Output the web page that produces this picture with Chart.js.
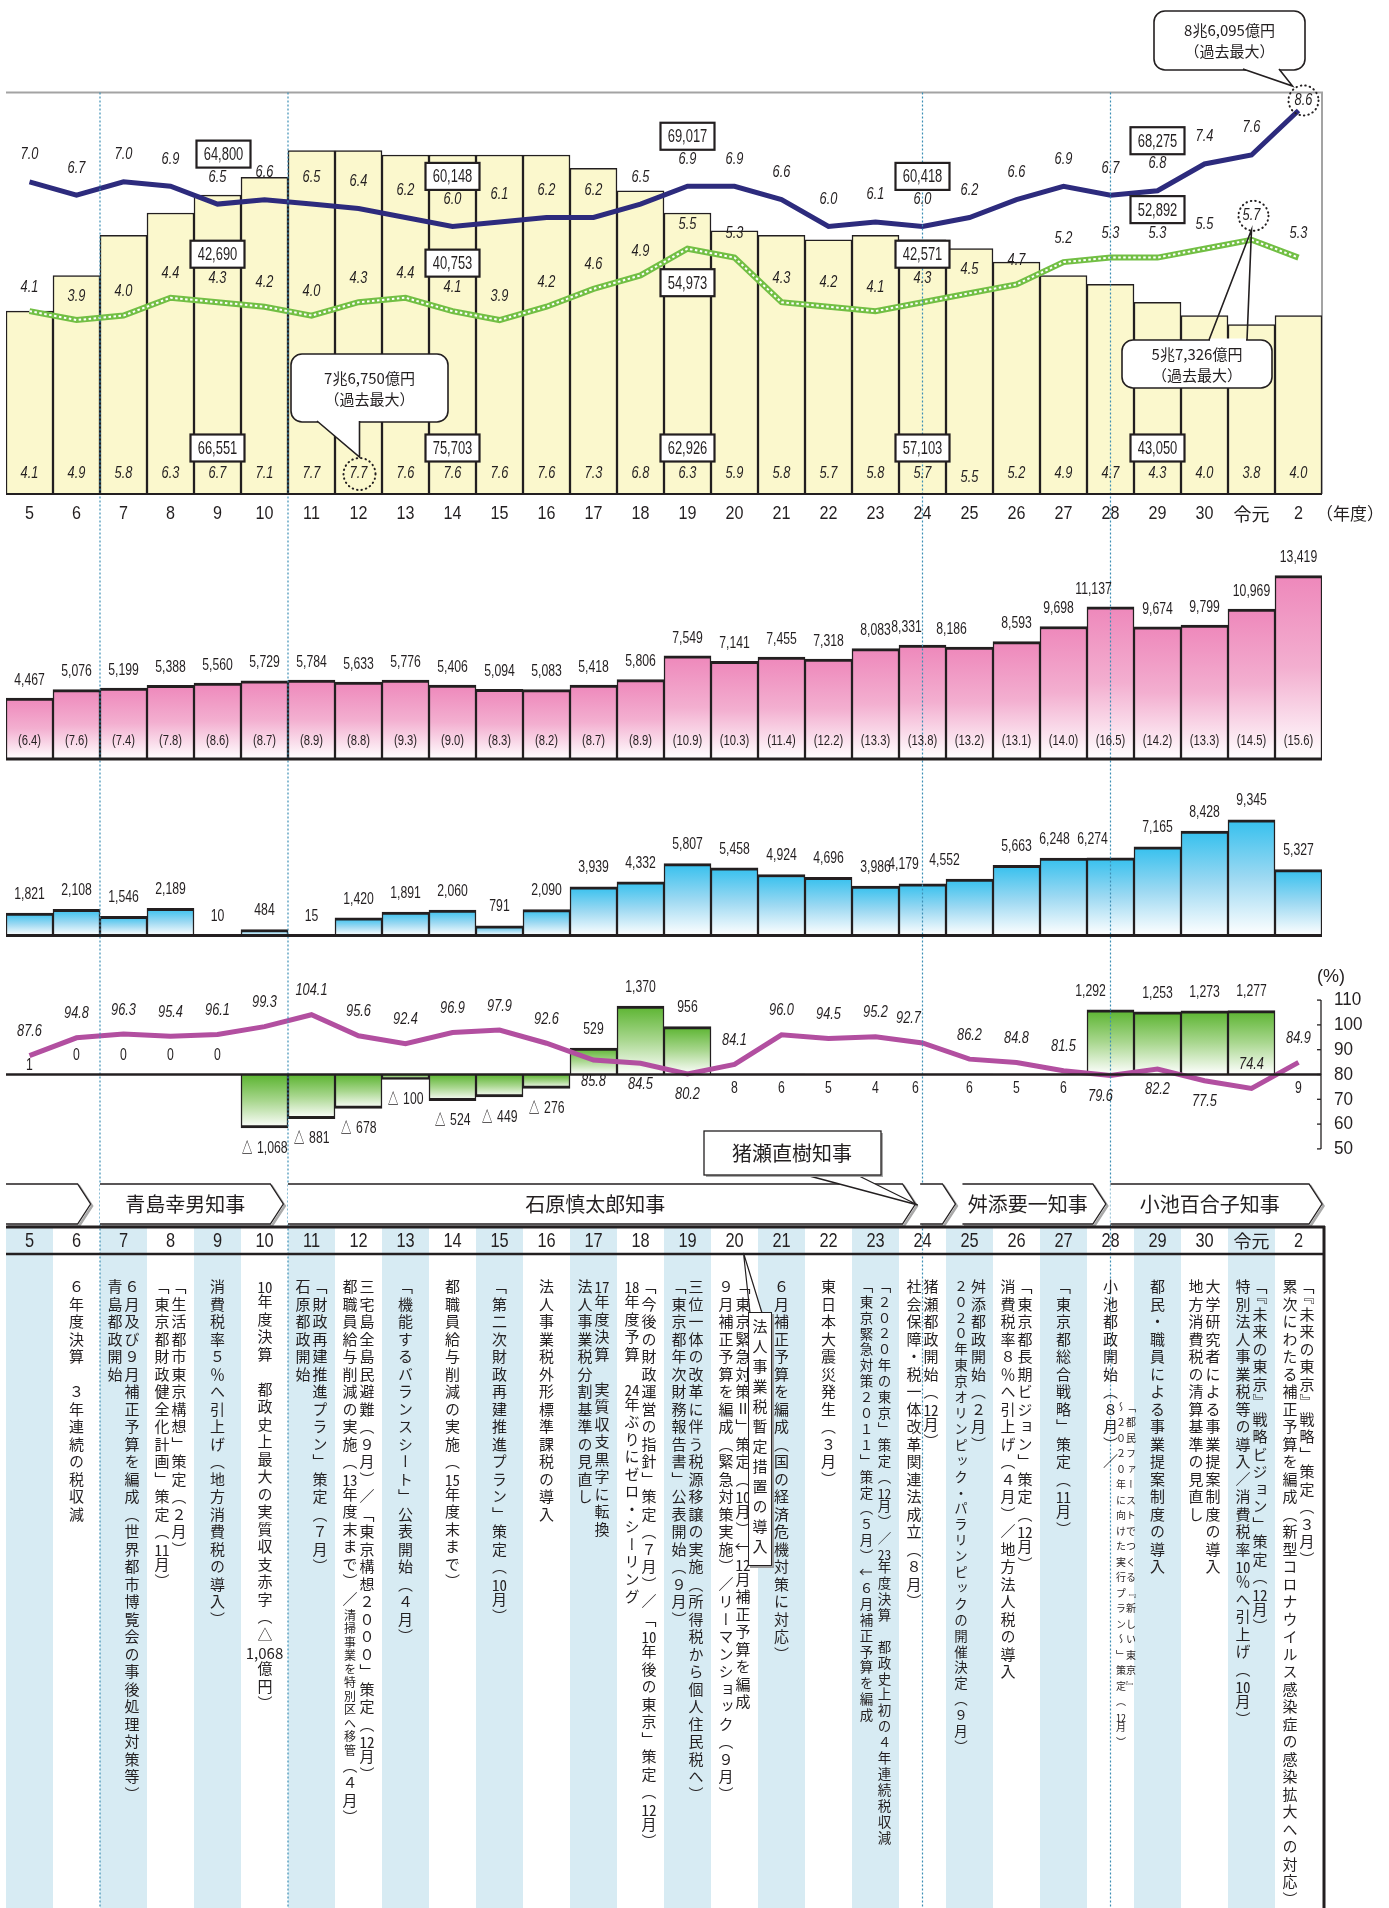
<!DOCTYPE html>
<html lang="ja">
<head>
<meta charset="utf-8">
<title>都財政の推移</title>
<script src="https://cdn.jsdelivr.net/npm/chart.js@4.4.1/dist/chart.umd.min.js"></script>
<style>
  html, body { margin: 0; padding: 0; background: #fff; }
  #wrap { position: relative; width: 1389px; height: 1908px; overflow: hidden; }
  #chart { position: absolute; left: 0; top: 0; }
  .col { position: absolute; top: 1279px; width: 47px; display: flex; justify-content: center; }
  .vt { writing-mode: vertical-rl; font-family: 'Noto Sans CJK JP', sans-serif; font-size: 15px;
        line-height: 17px; letter-spacing: 2.5px; color: #231f20; white-space: nowrap; }
  .vt .cp { font-size: 13.5px; letter-spacing: 2.4px; }
  .vt .sm { font-size: 12px; letter-spacing: 1.5px; }
  .tcy { text-combine-upright: all; }
  .hz { writing-mode: horizontal-tb; display: inline-block; letter-spacing: 0; }
  .plan { position: absolute; writing-mode: vertical-rl; font-family: 'Noto Sans CJK JP', sans-serif;
          font-size: 10px; line-height: 10px; letter-spacing: 5.5px; color: #231f20; white-space: nowrap; }
  .tag { position: absolute; box-sizing: border-box; writing-mode: vertical-rl; display: flex;
         align-items: center; justify-content: center; background: #fff; border: 1.5px solid #231f20;
         box-shadow: 2px 2px 0 #9c9c9c; font-family: 'Noto Sans CJK JP', sans-serif; font-size: 15px;
         letter-spacing: 5px; color: #231f20; }
</style>
</head>
<body>
<div id="wrap">
  <canvas id="chart" width="1389" height="1908"></canvas>
  <div id="notes"></div>
</div>
<script>
// 年度
const years = ['5','6','7','8','9','10','11','12','13','14','15','16','17','18','19','20',
  '21','22','23','24','25','26','27','28','29','30','令元','2'];

// 上段（兆円）
const debtTotal   = [4.1,4.9,5.8,6.3,6.7,7.1,7.7,7.7,7.6,7.6,7.6,7.6,7.3,6.8,6.3,5.9,5.8,5.7,5.8,5.7,5.5,5.2,4.9,4.7,4.3,4.0,3.8,4.0];
const budgetTotal = [7.0,6.7,7.0,6.9,6.5,6.6,6.5,6.4,6.2,6.0,6.1,6.2,6.2,6.5,6.9,6.9,6.6,6.0,6.1,6.0,6.2,6.6,6.9,6.7,6.8,7.4,7.6,8.6];
const taxTotal    = [4.1,3.9,4.0,4.4,4.3,4.2,4.0,4.3,4.4,4.1,3.9,4.2,4.6,4.9,5.5,5.3,4.3,4.2,4.1,4.3,4.5,4.7,5.2,5.3,5.3,5.5,5.7,5.3];

// 知事就任年度の金額（億円）
const termYears  = ['9','14','19','24','29'];
const termBudget = [64800, 60148, 69017, 60418, 68275];
const termTax    = [42690, 40753, 54973, 42571, 52892];
const termDebt   = [66551, 75703, 62926, 57103, 43050];

const recordNotes = [
  { year: '12', lines: ['7兆6,750億円', '（過去最大）'] },
  { year: '2', lines: ['8兆6,095億円', '（過去最大）'] },
  { year: '令元', lines: ['5兆7,326億円', '（過去最大）'] }
];

// 第2段（億円）と構成比（%）
const socialCost  = [4467,5076,5199,5388,5560,5729,5784,5633,5776,5406,5094,5083,5418,5806,7549,7141,7455,7318,8083,8331,8186,8593,9698,11137,9674,9799,10969,13419];
const socialShare = [6.4,7.6,7.4,7.8,8.6,8.7,8.9,8.8,9.3,9.0,8.3,8.2,8.7,8.9,10.9,10.3,11.4,12.2,13.3,13.8,13.2,13.1,14.0,16.5,14.2,13.3,14.5,15.6];

// 第3段（億円）
const fundBalance = [1821,2108,1546,2189,10,484,15,1420,1891,2060,791,2090,3939,4332,5807,5458,4924,4696,3986,4179,4552,5663,6248,6274,7165,8428,9345,5327];

// 第4段：実質収支（億円）と経常収支比率（%）
const realBalance = [1,0,0,0,0,-1068,-881,-678,-100,-524,-449,-276,529,1370,956,8,6,5,4,6,6,5,6,1292,1253,1273,1277,9];
const burdenRatio = [87.6,94.8,96.3,95.4,96.1,99.3,104.1,95.6,92.4,96.9,97.9,92.6,85.8,84.5,80.2,84.1,96.0,94.5,95.2,92.7,86.2,84.8,81.5,79.6,82.2,77.5,74.4,84.9];
const ratioTicks  = [110,100,90,80,70,60,50];

// 知事の在任期間（年度の位置）
const governors = [
  { name: '', from: -0.5, to: 1.3 },
  { name: '青島幸男知事', from: 1.5, to: 5.4 },
  { name: '石原慎太郎知事', from: 5.5, to: 18.85 },
  { name: '', from: 18.95, to: 19.7 },
  { name: '舛添要一知事', from: 19.85, to: 22.9 },
  { name: '小池百合子知事', from: 23, to: 27.5 }
];
const termLines = [1.5, 5.5, 19, 23];
const inoseLabel = '猪瀬直樹知事';

// 各年度の出来事（右の行から）
const events = [
  [],
  ['６年度決算　３年連続の税収減'],
  ['６月及び９月補正予算を編成（世界都市博覧会の事後処理対策等）', '青島都政開始'],
  ['「生活都市東京構想」策定（２月）', '「東京都財政健全化計画」策定（11月）'],
  ['消費税率５％へ引上げ（地方消費税の導入）'],
  ['10年度決算　都政史上最大の実質収支赤字（△1,068億円）'],
  ['「財政再建推進プラン」策定（７月）', '石原都政開始'],
  ['三宅島全島民避難（９月）／「東京構想２０００」策定（12月）', '都職員給与削減の実施（13年度末まで）／<<清掃事業を特別区へ移管>>（４月）'],
  ['「機能するバランスシート」公表開始（４月）'],
  ['都職員給与削減の実施（15年度末まで）'],
  ['「第二次財政再建推進プラン」策定（10月）'],
  ['法人事業税外形標準課税の導入'],
  ['17年度決算　実質収支黒字に転換', '法人事業税分割基準の見直し'],
  ['「今後の財政運営の指針」策定（７月）／「10年後の東京」策定（12月）', '18年度予算　24年ぶりにゼロ・シーリング'],
  ['三位一体の改革に伴う税源移譲の実施（所得税から個人住民税へ）', '「東京都年次財務報告書」公表開始（９月）'],
  ['「東京緊急対策Ⅱ」策定（10月）↓12月補正予算を編成', '９月補正予算を編成（緊急対策実施）／リーマンショック（９月）'],
  ['６月補正予算を編成（国の経済危機対策に対応）'],
  ['東日本大震災発生（３月）'],
  ['「２０２０年の東京」策定（12月）／23年度決算　都政史上初の４年連続税収減', '「東京緊急対策２０１１」策定（５月）↓６月補正予算を編成'],
  ['猪瀬都政開始（12月）', '社会保障・税一体改革関連法成立（８月）'],
  ['舛添都政開始（２月）', '２０２０年東京オリンピック・パラリンピックの開催決定（９月）'],
  ['「東京都長期ビジョン」策定（12月）', '消費税率８％へ引上げ（４月）／地方法人税の導入'],
  ['「東京都総合戦略」策定（11月）'],
  ['小池都政開始（８月）／'],
  ['都民・職員による事業提案制度の導入'],
  ['大学研究者による事業提案制度の導入', '地方消費税の清算基準の見直し'],
  ['「『未来の東京』戦略ビジョン」策定（12月）', '特別法人事業税等の導入／消費税率10％へ引上げ（10月）'],
  ['「『未来の東京』戦略」策定（３月）', '累次にわたる補正予算を編成（新型コロナウイルス感染症の感染拡大への対応）']
];
const plan2016 = ['「都民ファーストでつくる『新しい東京』', '～２０２０年に向けた実行プラン～」策定（12月）'];
const tempTax = '法人事業税暫定措置の導入';

const H = 1908;
const INK = '#231f20';
const NUM = "'Liberation Sans', Arial, sans-serif";
const CJK = "'Noto Sans CJK JP', 'Noto Sans CJK SC', sans-serif";
const ITAL = { size: 16, italic: true, narrow: 0.8 };
const LBL = { size: 17, narrow: 0.72 };

const fmt = v => v.toLocaleString('en-US');
const idxOf = y => years.indexOf(y);

// value -> pixel mapping: every panel shares one canvas, so each axis is placed by its zero line
function axis(zeroPx, pxPerUnit, ref = 0) {
  return { type: 'linear', display: false, bounds: 'data', grace: 0,
    min: ref - (H - zeroPx) / pxPerUnit, max: ref + zeroPx / pxPerUnit };
}

function txt(ctx, s, x, y, o = {}) {
  ctx.save();
  ctx.font = `${o.italic ? 'italic ' : ''}${o.size || 16}px ${o.font || NUM}`;
  ctx.fillStyle = o.color || INK;
  ctx.textAlign = o.align || 'center';
  ctx.textBaseline = 'middle';
  ctx.translate(x, y);
  ctx.scale(o.narrow || 1, 1);
  ctx.fillText(s, 0, 0);
  ctx.restore();
}

function hline(ctx, x0, x1, y, w) {
  ctx.save();
  ctx.strokeStyle = INK; ctx.lineWidth = w;
  ctx.beginPath(); ctx.moveTo(x0, y); ctx.lineTo(x1, y); ctx.stroke();
  ctx.restore();
}

function valueBox(ctx, cx, cy, text) {
  const w = 54, h = 27;
  ctx.save();
  ctx.fillStyle = '#fff'; ctx.fillRect(cx - w / 2, cy - h / 2, w, h);
  ctx.strokeStyle = INK; ctx.lineWidth = 2.2; ctx.strokeRect(cx - w / 2, cy - h / 2, w, h);
  ctx.restore();
  txt(ctx, text, cx, cy + 1, { size: 18, narrow: 0.72 });
}

function dotRing(ctx, cx, cy, r) {
  ctx.save();
  ctx.strokeStyle = INK; ctx.lineWidth = 2; ctx.lineCap = 'round'; ctx.setLineDash([0.5, 4]);
  ctx.beginPath(); ctx.arc(cx, cy, r, 0, Math.PI * 2); ctx.stroke();
  ctx.restore();
}

// speech bubble; tail = [base1, apex, base2]
function bubble(ctx, r, tail, lines, fillTail) {
  ctx.save();
  ctx.fillStyle = '#fff'; ctx.strokeStyle = INK; ctx.lineWidth = 1.6;
  ctx.beginPath(); ctx.roundRect(r.x, r.y, r.w, r.h, 11); ctx.fill(); ctx.stroke();
  const [b1, ap, b2] = tail;
  if (fillTail) {
    ctx.beginPath(); ctx.moveTo(b1[0], b1[1]); ctx.lineTo(ap[0], ap[1]); ctx.lineTo(b2[0], b2[1]); ctx.closePath(); ctx.fill();
  } else {
    ctx.fillRect(b1[0] + 1, b1[1] - 1.5, b2[0] - b1[0] - 2, 3);
  }
  ctx.beginPath(); ctx.moveTo(b1[0], b1[1]); ctx.lineTo(ap[0], ap[1]); ctx.lineTo(b2[0], b2[1]); ctx.stroke();
  ctx.restore();
  const cx = r.x + r.w / 2;
  txt(ctx, lines[0], cx, r.y + r.h / 2 - 10, { size: 15, font: CJK });
  txt(ctx, lines[1], cx, r.y + r.h / 2 + 11, { size: 15, font: CJK });
}

function arrow(ctx, x0, x1, y0, y1, tip) {
  const ym = (y0 + y1) / 2;
  const path = (dx, dy) => {
    ctx.beginPath();
    ctx.moveTo(x0 + dx, y0 + dy); ctx.lineTo(x1 - tip + dx, y0 + dy); ctx.lineTo(x1 + dx, ym + dy);
    ctx.lineTo(x1 - tip + dx, y1 + dy); ctx.lineTo(x0 + dx, y1 + dy);
  };
  ctx.save();
  ctx.strokeStyle = '#a9a9a9'; ctx.lineWidth = 2.5; path(1.5, 2); ctx.stroke();
  ctx.fillStyle = '#fff'; path(0, 0); ctx.fill();
  ctx.strokeStyle = INK; ctx.lineWidth = 1.3; path(0, 0); ctx.stroke();
  ctx.restore();
}

// bar fill fading from the bar's top edge to white
function fade(top, mid) {
  return c => {
    const chart = c.chart, sc = chart.scales[c.dataset.yAxisID];
    if (c.type !== 'data' || !sc || !chart.chartArea) return top;
    const a = sc.getPixelForValue(c.raw), b = sc.getPixelForValue(0);
    const y0 = Math.min(a, b), y1 = Math.max(a, b);
    if (y1 - y0 < 2) return top;
    const g = chart.ctx.createLinearGradient(0, y0, 0, y1);
    g.addColorStop(0, top); g.addColorStop(0.5, mid); g.addColorStop(1, '#ffffff');
    return g;
  };
}
const edge = c => c.raw < 0 ? { top: 0, left: 1.5, right: 1.5, bottom: 3 } : { top: 3, left: 1.5, right: 1.5, bottom: 0 };

const TABLE_TOP = 1228;

const decor = {
  id: 'decor',
  beforeDatasetsDraw(chart) {
    const { ctx, chartArea: a, scales: s } = chart;
    const x = i => s.x.getPixelForValue(i);
    const step = x(1) - x(0);
    ctx.save();
    ctx.fillStyle = '#d7ebf3';
    years.forEach((_, i) => { if (i % 2 === 0) ctx.fillRect(x(i) - step / 2, TABLE_TOP, step, H - TABLE_TOP); });
    const yTop = s.yTop.getPixelForValue(9);
    ctx.strokeStyle = '#a3a3a3'; ctx.lineWidth = 2;
    ctx.beginPath(); ctx.moveTo(a.left, yTop); ctx.lineTo(a.right, yTop); ctx.lineTo(a.right, s.yTop.getPixelForValue(0)); ctx.stroke();
    ctx.restore();
  },
  afterDatasetsDraw(chart) {
    const { ctx, chartArea: a, scales: s } = chart;
    const x = i => s.x.getPixelForValue(i);

    // governor term separators
    ctx.save();
    ctx.strokeStyle = '#3d8fb5'; ctx.lineWidth = 1.2; ctx.setLineDash([2, 2]);
    termLines.forEach(t => {
      ctx.beginPath(); ctx.moveTo(x(t), s.yTop.getPixelForValue(9)); ctx.lineTo(x(t), H); ctx.stroke();
    });
    ctx.restore();

    hline(ctx, a.left, a.right, s.yTop.getPixelForValue(0), 2);
    hline(ctx, a.left, a.right, s.yPink.getPixelForValue(0), 3);
    hline(ctx, a.left, a.right, s.yBlue.getPixelForValue(0), 3);
    hline(ctx, a.left, a.right - 1, s.yGreen.getPixelForValue(0), 2.5);

    drawTop(ctx, s, x);
    drawLower(ctx, s, x);
    drawTable(ctx, s, x, a);
  }
};

function drawTop(ctx, s, x) {
  const y = v => s.yTop.getPixelForValue(v);
  const last = years.length - 1;
  const taxPeak = idxOf('令元');

  debtTotal.forEach((v, i) => txt(ctx, v.toFixed(1), x(i), i === 20 ? 478 : 474, ITAL));
  budgetTotal.forEach((v, i) => { if (i !== last) txt(ctx, v.toFixed(1), x(i), y(v) - 27, ITAL); });
  taxTotal.forEach((v, i) => { if (i !== taxPeak) txt(ctx, v.toFixed(1), x(i), y(v) - 24, ITAL); });

  termYears.forEach((yr, k) => {
    const i = idxOf(yr);
    valueBox(ctx, x(i) + (k === 0 ? 6 : 0), y(budgetTotal[i]) - 50, fmt(termBudget[k]));
    valueBox(ctx, x(i), k === 2 ? y(taxTotal[i]) + 34 : y(taxTotal[i]) - 48, fmt(termTax[k]));
    valueBox(ctx, x(i), 448, fmt(termDebt[k]));
  });

  // record highs
  const d = idxOf(recordNotes[0].year);
  dotRing(ctx, x(d) + 1, 474, 16);
  bubble(ctx, { x: 291, y: 354, w: 157, h: 68 }, [[317, 421], [x(d) + 1, 457], [x(d) + 1, 421]], recordNotes[0].lines, true);

  const b = idxOf(recordNotes[1].year);
  const by = y(budgetTotal[b]) - 10;
  txt(ctx, budgetTotal[b].toFixed(1), x(b) + 5, by, ITAL);
  dotRing(ctx, x(b) + 5, by, 15);
  bubble(ctx, { x: 1154, y: 11, w: 151, h: 59 }, [[1243, 69], [x(b) - 6, 86], [1279, 69]], recordNotes[1].lines, true);

  const t = idxOf(recordNotes[2].year);
  const ty = y(taxTotal[t]) - 24;
  txt(ctx, taxTotal[t].toFixed(1), x(t), ty, ITAL);
  dotRing(ctx, x(t) + 2, ty, 15);
  bubble(ctx, { x: 1122, y: 340, w: 150, h: 48 }, [[1209, 340], [x(t), ty + 14], [1247, 340]], recordNotes[2].lines, false);

  years.forEach((yr, i) => txt(ctx, yr, x(i), 514,
    yr === '令元' ? { size: 18, font: CJK } : { size: 19, narrow: 0.85 }));
  txt(ctx, '（年度）', 1350, 514, { size: 17, font: CJK });
}

function drawLower(ctx, s, x) {
  const pinkShift = { 19: -16, 20: -18, 22: -5, 23: -17 };
  socialCost.forEach((v, i) => txt(ctx, fmt(v), x(i) + (pinkShift[i] || 0), s.yPink.getPixelForValue(v) - 18, LBL));
  socialShare.forEach((v, i) => txt(ctx, `(${v.toFixed(1)})`, x(i), 741, { size: 15, narrow: 0.75 }));

  const blueShift = { 19: -19, 20: -25, 22: -9, 23: -18 };
  fundBalance.forEach((v, i) => txt(ctx, fmt(v), x(i) + (blueShift[i] || 0), s.yBlue.getPixelForValue(v) - 19, LBL));

  const g0 = s.yGreen.getPixelForValue(0);
  realBalance.forEach((v, i) => {
    const yv = s.yGreen.getPixelForValue(v);
    if (v < 0) txt(ctx, '△ ' + fmt(-v), x(i), yv + 20, LBL);
    else if (v >= 100) txt(ctx, fmt(v), x(i) + (i === 23 ? -20 : 0), yv - 19, LBL);
    else txt(ctx, String(v), x(i) + (i === 19 ? -7 : 0), i < 5 ? g0 - (i === 0 ? 9 : 19) : g0 + 14, LBL);
  });

  const below = new Set([12, 13, 14, 23, 24, 25]);
  const ratioShift = { 19: -14, 23: -10 };
  burdenRatio.forEach((v, i) => {
    const yv = s.yPct.getPixelForValue(v);
    txt(ctx, v.toFixed(1), x(i) + (ratioShift[i] || 0), below.has(i) ? yv + 21 : yv - 24, ITAL);
  });

  // percentage axis on the right
  const ax = 1321;
  ctx.save();
  ctx.strokeStyle = INK; ctx.lineWidth = 1.3;
  ctx.beginPath(); ctx.moveTo(ax, s.yPct.getPixelForValue(110)); ctx.lineTo(ax, s.yPct.getPixelForValue(50)); ctx.stroke();
  ratioTicks.forEach(t => {
    const ty = s.yPct.getPixelForValue(t);
    ctx.beginPath(); ctx.moveTo(ax - 4, ty); ctx.lineTo(ax, ty); ctx.stroke();
    txt(ctx, String(t), 1334, ty, { size: 19, narrow: 0.9, align: 'left' });
  });
  ctx.restore();
  txt(ctx, '(%)', 1331, 977, { size: 18 });
}

function drawTable(ctx, s, x, a) {
  // governor arrows
  governors.forEach(g => {
    const x0 = g.from === -0.5 ? a.left : x(g.from), x1 = x(g.to);
    arrow(ctx, x0, x1, 1184, 1224, 13);
    if (g.name) txt(ctx, g.name, (x0 + x1 - 13) / 2, 1204, { size: 20, font: CJK });
  });

  // short term callout
  ctx.save();
  ctx.fillStyle = '#fff'; ctx.strokeStyle = INK; ctx.lineWidth = 1.3;
  ctx.beginPath(); ctx.moveTo(802, 1174); ctx.lineTo(x(18.9), 1205); ctx.lineTo(855, 1174); ctx.fill(); ctx.stroke();
  ctx.fillStyle = '#a9a9a9'; ctx.fillRect(706, 1133, 177, 44);
  ctx.fillStyle = '#fff'; ctx.fillRect(704, 1131, 177, 44);
  ctx.strokeRect(704, 1131, 177, 44);
  ctx.restore();
  txt(ctx, inoseLabel, 792, 1153, { size: 20, font: CJK });

  // year header
  hline(ctx, a.left, 1325, TABLE_TOP - 1, 3);
  hline(ctx, a.left, 1325, 1254, 2.5);
  years.forEach((yr, i) => txt(ctx, yr, x(i), 1241,
    yr === '令元' ? { size: 18, font: CJK } : { size: 21, narrow: 0.78 }));
  ctx.save();
  ctx.strokeStyle = INK; ctx.lineWidth = 3;
  ctx.beginPath(); ctx.moveTo(1324, TABLE_TOP - 2); ctx.lineTo(1324, H); ctx.stroke();

  // pointer to the tax note box
  ctx.fillStyle = '#fff'; ctx.lineWidth = 1.2;
  ctx.beginPath(); ctx.moveTo(x(15.5) - 8, 1313); ctx.lineTo(x(15) + 9, 1253); ctx.lineTo(x(15.5) + 4, 1313); ctx.fill(); ctx.stroke();
  ctx.restore();
}

const chart = new Chart(document.getElementById('chart'), {
  type: 'bar',
  data: {
    labels: years,
    datasets: [
      { type: 'line', data: budgetTotal, yAxisID: 'yTop', borderColor: '#2d2b7d', borderWidth: 5,
        pointRadius: 0, tension: 0, order: 1 },
      { type: 'line', data: taxTotal, yAxisID: 'yTop', borderColor: '#ffffff', borderWidth: 2,
        borderDash: [2.5, 2.5], pointRadius: 0, tension: 0, order: 0 },
      { type: 'line', data: taxTotal, yAxisID: 'yTop', borderColor: '#72bf44', borderWidth: 6,
        pointRadius: 0, tension: 0, order: 1 },
      { data: debtTotal, yAxisID: 'yTop', backgroundColor: '#fbf8cd', borderColor: INK,
        borderWidth: { top: 1.5, left: 1.5, right: 1.5, bottom: 0 }, borderSkipped: false, order: 5 },
      { data: socialCost, yAxisID: 'yPink', backgroundColor: fade('#ee88bb', '#f3afd0'), borderColor: INK,
        borderWidth: edge, borderSkipped: false, order: 5 },
      { data: fundBalance, yAxisID: 'yBlue', backgroundColor: fade('#35c0ee', '#9dd9f2'), borderColor: INK,
        borderWidth: edge, borderSkipped: false, order: 5 },
      { data: realBalance, yAxisID: 'yGreen', backgroundColor: fade('#5bb430', '#a9d78f'), borderColor: INK,
        borderWidth: edge, borderSkipped: false, order: 5 },
      { type: 'line', data: burdenRatio, yAxisID: 'yPct', borderColor: '#b24fa0', borderWidth: 5,
        pointRadius: 0, tension: 0, order: 0 }
    ]
  },
  options: {
    responsive: false,
    animation: false,
    devicePixelRatio: 1,
    layout: { padding: { left: 6, right: 67, top: 0, bottom: 0 } },
    datasets: { bar: { barPercentage: 1, categoryPercentage: 1, grouped: false } },
    plugins: { legend: { display: false }, tooltip: { enabled: false } },
    scales: {
      x: { type: 'category', display: false, offset: true },
      yTop: axis(494, 44.6),
      yPink: axis(759, 0.01366),
      yBlue: axis(935.5, 0.01238),
      yGreen: axis(1074.5, 0.05),
      yPct: axis(1074.5, 2.48, 80)
    }
  },
  plugins: [decor]
});

// vertical event notes placed on the chart's year columns
function markup(str) {
  return str
    .replace(/<<(.+?)>>/g, '<span class="sm">$1</span>')
    .replace(/\d{1,3}(?:,\d{3})+|\d{2,}/g, m => m.includes(',') ? `<span class="hz">${m}</span>` : `<span class="tcy">${m}</span>`);
}
const compact = { 18: [0, 1], 20: [1] };
const notes = document.getElementById('notes');
const colX = i => chart.scales.x.getPixelForValue(i);

events.forEach((lines, i) => {
  if (!lines.length) return;
  const col = document.createElement('div');
  col.className = 'col';
  col.style.left = (colX(i) - 23.5) + 'px';
  const vt = document.createElement('div');
  vt.className = 'vt';
  vt.innerHTML = lines.map((l, k) =>
    `<span${(compact[i] || []).includes(k) ? ' class="cp"' : ''}>${markup(l)}</span>`).join('<br>');
  col.appendChild(vt);
  notes.appendChild(col);
});

const plan = document.createElement('div');
plan.className = 'plan';
plan.style.left = (colX(idxOf('28')) + 5) + 'px';
plan.style.top = '1402px';
plan.innerHTML = plan2016.map(markup).join('<br>');
notes.appendChild(plan);

const tag = document.createElement('div');
tag.className = 'tag';
tag.style.left = (colX(15.5) - 10) + 'px';
tag.style.top = '1312px';
tag.style.width = '24px';
tag.style.height = '254px';
tag.textContent = tempTax;
notes.appendChild(tag);
</script>
</body>
</html>
